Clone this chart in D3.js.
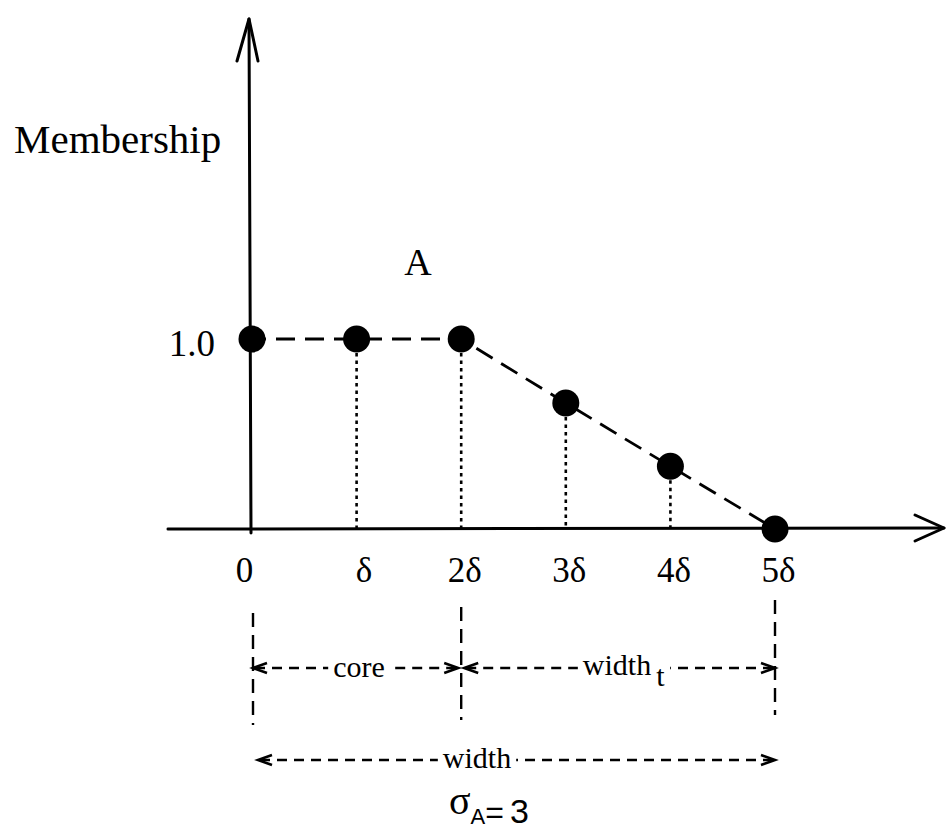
<!DOCTYPE html>
<html>
<head>
<meta charset="utf-8">
<script src="https://cdn.jsdelivr.net/npm/d3@7"></script>
<style>
  html, body { margin: 0; padding: 0; background: #fff; }
  svg { display: block; }
</style>
</head>
<body>
<svg id="chart" width="947" height="831"></svg>
<script>
// ---- data ----
const categories = ["0", "δ", "2δ", "3δ", "4δ", "5δ"];
const steps = [0, 1, 2, 3, 4, 5];
const membership = [1.0, 1.0, 1.0, 0.663, 0.33, 0.0];
const yTickValues = [1.0];
const yTickLabels = ["1.0"];
const yLabel = "Membership";
const setLabel = "A";
const spans = [
  { from: 0, to: 2, label: "core", sub: "" },
  { from: 2, to: 5, label: "width", sub: "t" },
  { from: 0, to: 5, label: "width", sub: "" }
];
const sigmaValue = 3;

// ---- layout ----
const svg = d3.select("#chart");
const serif = "'Liberation Serif', 'Times New Roman', serif";
const sans = "'Liberation Sans Narrow', 'Liberation Sans', Arial, sans-serif";

const x = d3.scaleLinear().domain([0, 5]).range([252, 775]);
const y = d3.scaleLinear().domain([0, 1]).range([529, 339]);

// main axes lines with arrows
const axisG = svg.append("g").attr("stroke", "#000").attr("fill", "none")
  .attr("stroke-width", 3).attr("stroke-linecap", "round").attr("stroke-linejoin", "round");
axisG.append("line").attr("x1", 168).attr("y1", y(0)).attr("x2", 944).attr("y2", y(0) - 1);
axisG.append("path").attr("d", `M915,515 L944,${y(0) - 1} L915,541`);
axisG.append("line").attr("x1", x(0) - 1).attr("y1", y(0) + 4).attr("x2", x(0) - 3).attr("y2", 19);
axisG.append("path").attr("d", `M237,61 L${x(0) - 3},19 L258,61`);

// bottom tick labels through d3 axis
const xAxis = d3.axisBottom(x).tickValues(steps)
  .tickFormat(i => categories[i]).tickSize(0).tickPadding(28);
const gx = svg.append("g").attr("transform", `translate(0,${y(0)})`).call(xAxis);
gx.select(".domain").remove();
gx.selectAll("text")
  .attr("font-family", serif).attr("font-size", 35).attr("fill", "#000")
  .attr("dx", (d) => d === 0 ? -8 : (d === 1 ? 7 : 3));

// left tick label
const yAxis = d3.axisLeft(y).tickValues(yTickValues)
  .tickFormat((d, i) => yTickLabels[i]).tickSize(0).tickPadding(37);
const gy = svg.append("g").attr("transform", `translate(${x(0)},0)`).call(yAxis);
gy.select(".domain").remove();
gy.selectAll("text")
  .attr("font-family", serif).attr("font-size", 37).attr("fill", "#000")
  .attr("dy", "0.44em");

// y label and set label
svg.append("text").attr("x", 14).attr("y", 153)
  .attr("font-family", serif).attr("font-size", 41).text(yLabel);
svg.append("text").attr("x", 418).attr("y", 275).attr("text-anchor", "middle")
  .attr("font-family", serif).attr("font-size", 38).text(setLabel);

// dotted verticals
const pts = steps.map((s, i) => ({ s, v: membership[i] }));
svg.append("g").selectAll("line")
  .data(pts.filter(p => p.v > 0 && p.s > 0))
  .join("line")
  .attr("x1", p => x(p.s)).attr("x2", p => x(p.s))
  .attr("y1", p => y(p.v) + 14).attr("y2", y(0))
  .attr("stroke", "#000").attr("stroke-width", 2.6)
  .attr("stroke-dasharray", "3.5,4");

// dashed membership profile
const line = d3.line().x(p => x(p.s)).y(p => y(p.v));
svg.append("path").datum(pts).attr("d", line)
  .attr("fill", "none").attr("stroke", "#000").attr("stroke-width", 2.8)
  .attr("stroke-dasharray", "19,10").attr("stroke-dashoffset", -24);

// points
svg.append("g").selectAll("circle").data(pts).join("circle")
  .attr("cx", p => x(p.s)).attr("cy", p => y(p.v)).attr("r", 13.5).attr("fill", "#000");

// dimension verticals
const dimG = svg.append("g").attr("stroke", "#000").attr("stroke-width", 2.4).attr("fill", "none");
const vTops = { 0: 613, 2: 607, 5: 600 };
const vBots = { 0: 725, 2: 720, 5: 715 };
[0, 2, 5].forEach(s => {
  dimG.append("line").attr("x1", x(s) + (s === 0 ? 1 : 0)).attr("x2", x(s) + (s === 0 ? 1 : 0))
    .attr("y1", vTops[s]).attr("y2", vBots[s]).attr("stroke-dasharray", "14,8");
});

// dimension arrows with labels
const spanY = [668, 668, 760];
const labelBase = [677, 675, 768];
spans.forEach((sp, i) => {
  const yy = spanY[i];
  const x0 = x(sp.from) + (i === 2 ? 6 : (i === 1 ? 3 : 1));
  const x1 = x(sp.to) - (i === 0 ? 3 : 0);
  const g = svg.append("g");
  const t = g.append("text").attr("font-family", serif).attr("font-size", 30).attr("y", labelBase[i]);
  t.append("tspan").text(sp.label);
  if (sp.sub) t.append("tspan").attr("dx", 5).attr("dy", 11).text(sp.sub);
  // center the label
  const cx = i === 0 ? 359 : (i === 1 ? 624 : 477);
  const bb = t.node().getBBox();
  t.attr("x", cx - bb.width / 2);
  const bb2 = t.node().getBBox();
  const gap = 5;
  const ds = g.append("g").attr("stroke", "#000").attr("stroke-width", 2.4).attr("fill", "none");
  ds.append("line").attr("x1", x0 + 2).attr("x2", bb2.x - gap).attr("y1", yy).attr("y2", yy)
    .attr("stroke-dasharray", "10,7");
  ds.append("line").attr("x1", x1 - 2).attr("x2", bb2.x + bb2.width + gap).attr("y1", yy).attr("y2", yy)
    .attr("stroke-dasharray", "10,7");
  ds.append("path").attr("d", `M${x0 + 14},${yy - 5} L${x0},${yy} L${x0 + 14},${yy + 5}`)
    .attr("stroke-width", 2.6);
  ds.append("path").attr("d", `M${x1 - 14},${yy - 5} L${x1},${yy} L${x1 - 14},${yy + 5}`)
    .attr("stroke-width", 2.6);
});

// sigma annotation
const st = svg.append("text").attr("x", 449).attr("y", 814);
st.append("tspan").attr("font-family", serif).attr("font-size", 40).text("σ");
st.append("tspan").attr("font-family", sans).attr("font-size", 22).attr("dy", 10).text("A");
st.append("tspan").attr("font-family", sans).attr("font-size", 32).attr("dy", -1).text("=");
st.append("tspan").attr("font-family", sans).attr("font-size", 34).attr("dx", 6).text(String(sigmaValue));
</script>
</body>
</html>
